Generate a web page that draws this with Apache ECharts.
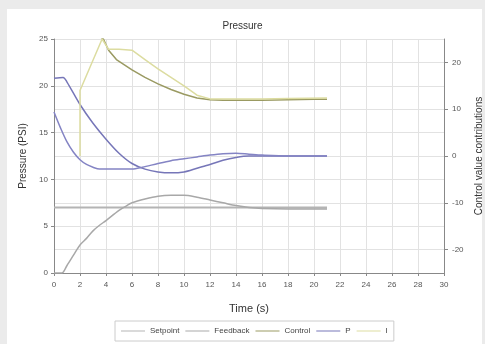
<!DOCTYPE html>
<html><head><meta charset="utf-8">
<script src="https://cdn.jsdelivr.net/npm/echarts@6/dist/echarts.min.js"></script>
<style>html,body{margin:0;padding:0;background:#ebebeb}#c{width:485px;height:344px}</style>
</head><body><div id="c"></div>
<script>
// ---- data (time in seconds) ----
var setpointT = [0, 21];
var setpointV = [7.0, 7.0];
var feedbackT = [0, 0.6, 1, 1.5, 2, 2.5, 3, 3.5, 4, 5, 5.6, 6, 7, 8, 9, 10, 11, 12, 13, 14, 15, 16, 18, 20, 21];
var feedbackV = [0, 0, 0.8, 1.9, 3.0, 3.7, 4.5, 5.1, 5.6, 6.7, 7.2, 7.5, 7.9, 8.2, 8.3, 8.3, 8.1, 7.8, 7.5, 7.2, 7.0, 6.9, 6.85, 6.85, 6.85];
var controlT = [0, 2, 3, 3.8, 4.2, 4.8, 6, 7, 8, 9, 10, 11, 12, 13, 14, 16, 18, 20, 21];
var controlV = [30, 28, 26.5, 25.0, 22.6, 20.6, 18.4, 16.8, 15.4, 14.2, 13.2, 12.4, 12.0, 11.9, 11.9, 11.9, 12.0, 12.1, 12.1];
var pT = [0, 0.7, 1, 2, 3, 4, 5, 6, 7, 8, 9, 10, 11, 12, 13, 14, 15, 16, 18, 21];
var pV = [16.6, 16.8, 15.8, 11.0, 7.0, 3.6, 0.6, -1.6, -2.8, -3.4, -3.6, -3.4, -2.6, -1.8, -0.9, -0.3, 0, 0, 0, 0];
var iT = [2, 2, 3.7, 4.2, 5, 6, 7, 8, 9, 10, 11, 12, 13, 14, 16, 18, 21];
var iV = [0, 14.0, 25.0, 22.8, 22.8, 22.6, 20.6, 18.6, 16.8, 15.0, 13.0, 12.2, 12.2, 12.2, 12.2, 12.3, 12.4];
var dT = [0, 0.5, 1, 1.5, 2, 2.5, 3, 3.5, 6, 6.8, 8, 9, 10, 11, 12, 13, 14, 15, 16, 18, 21];
var dV = [9.4, 6.0, 3.0, 0.8, -0.8, -1.8, -2.4, -2.8, -2.8, -2.4, -1.6, -1.0, -0.6, -0.2, 0.2, 0.5, 0.6, 0.4, 0.2, 0, 0];
var xTicks = [0, 30, 2];
var leftTicks = [0, 25, 5];
var rightTicks = [-25, 25];
var rightLabels = [-20, -10, 0, 10, 20];

function pairs(t, v) { return t.map(function (x, i) { return [x, v[i]]; }); }

var F = 'Liberation Sans';
var chart = echarts.init(document.getElementById('c'), null, {renderer: 'canvas'});
chart.setOption({
  backgroundColor: '#ebebeb',
  animation: false,
  textStyle: {fontFamily: F},
  graphic: [{type: 'rect', left: 7, top: 9, shape: {width: 475, height: 340}, style: {fill: '#ffffff'}, z: -10}],
  title: {text: 'Pressure', left: 'center', top: 16, textStyle: {fontSize: 10, fontWeight: 'normal', color: '#333', fontFamily: F}},
  legend: {
    data: ['Setpoint', 'Feedback', 'Control', 'P', 'I'],
    left: 115, top: 321, orient: 'horizontal',
    icon: 'rect', itemWidth: 24, itemHeight: 1, itemGap: 6,
    borderColor: '#cccccc', borderWidth: 1, padding: [6, 6],
    textStyle: {fontSize: 8, color: '#444', fontFamily: F}
  },
  grid: {left: 54, right: 41, top: 39, bottom: 71, outerBoundsMode: 'none', containLabel: false},
  xAxis: {
    type: 'value', min: xTicks[0], max: xTicks[1], interval: xTicks[2],
    name: 'Time (s)', nameLocation: 'middle', nameGap: 30,
    nameTextStyle: {fontSize: 11, color: '#333', fontFamily: F},
    axisLine: {show: true, lineStyle: {color: '#888'}},
    axisTick: {show: true, length: 3, lineStyle: {color: '#888'}},
    axisLabel: {fontSize: 8, color: '#555', margin: 8},
    splitLine: {show: true, lineStyle: {color: '#e2e2e2'}}
  },
  yAxis: [{
    type: 'value', min: leftTicks[0], max: leftTicks[1], interval: leftTicks[2],
    name: 'Pressure (PSI)', nameLocation: 'middle', nameGap: 26, nameRotate: 90,
    nameTextStyle: {fontSize: 10, color: '#333', fontFamily: F},
    axisLine: {show: true, lineStyle: {color: '#888'}},
    axisTick: {show: true, length: 3, lineStyle: {color: '#888'}},
    axisLabel: {fontSize: 8, color: '#555', margin: 6},
    splitLine: {show: true, lineStyle: {color: '#e2e2e2'}}
  }, {
    type: 'value', min: rightTicks[0], max: rightTicks[1], interval: 5,
    position: 'right',
    name: 'Control value contributions', nameLocation: 'middle', nameGap: 30, nameRotate: 90,
    nameTextStyle: {fontSize: 10, color: '#333', fontFamily: F},
    axisLine: {show: true, lineStyle: {color: '#888'}},
    axisTick: {show: true, length: 4, lineStyle: {color: '#888'}, customValues: rightLabels},
    axisLabel: {fontSize: 8, color: '#555', margin: 8, customValues: rightLabels},
    splitLine: {show: true, lineStyle: {color: '#e2e2e2'}}
  }],
  series: [
    {name: 'Setpoint', type: 'line', yAxisIndex: 0, data: pairs(setpointT, setpointV), showSymbol: false, symbol: 'none', lineStyle: {color: '#b4b4b4', width: 2}, itemStyle: {color: '#b4b4b4'}},
    {name: 'Feedback', type: 'line', yAxisIndex: 0, data: pairs(feedbackT, feedbackV), showSymbol: false, symbol: 'none', smooth: 0.3, lineStyle: {color: '#a8a8a8', width: 1.5}, itemStyle: {color: '#a8a8a8'}},
    {name: 'Control', type: 'line', yAxisIndex: 1, data: pairs(controlT, controlV), showSymbol: false, symbol: 'none', lineStyle: {color: '#9a9a62', width: 1.5}, itemStyle: {color: '#9a9a62'}},
    {name: 'P', type: 'line', yAxisIndex: 1, data: pairs(pT, pV), showSymbol: false, symbol: 'none', smooth: 0.3, lineStyle: {color: '#7676b8', width: 1.5}, itemStyle: {color: '#7676b8'}},
    {name: 'I', type: 'line', yAxisIndex: 1, data: pairs(iT, iV), showSymbol: false, symbol: 'none', lineStyle: {color: '#dcdca0', width: 1.5}, itemStyle: {color: '#dcdca0'}},
    {name: 'D', type: 'line', yAxisIndex: 1, data: pairs(dT, dV), showSymbol: false, symbol: 'none', smooth: 0.3, lineStyle: {color: '#8484c4', width: 1.5}, itemStyle: {color: '#8484c4'}}
  ]
});
</script></body></html>
